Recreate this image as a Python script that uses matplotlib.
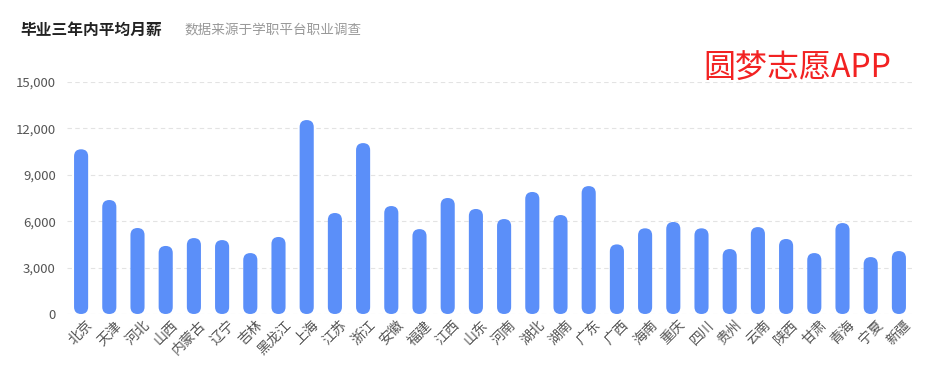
import matplotlib
matplotlib.use("Agg")
import matplotlib.pyplot as plt
from matplotlib.patches import FancyBboxPatch
from matplotlib.ticker import FuncFormatter
from matplotlib.transforms import ScaledTranslation

plt.rcParams['font.family'] = ['Noto Sans CJK SC', 'DejaVu Sans']

provinces = ["北京", "天津", "河北", "山西", "内蒙古", "辽宁", "吉林", "黑龙江", "上海", "江苏",
             "浙江", "安徽", "福建", "江西", "山东", "河南", "湖北", "湖南", "广东", "广西",
             "海南", "重庆", "四川", "贵州", "云南", "陕西", "甘肃", "青海", "宁夏", "新疆"]
salaries = [10650, 7370, 5560, 4400, 4910, 4780, 3940, 4980, 12540, 6530,
            11050, 6980, 5490, 7500, 6790, 6140, 7890, 6400, 8270, 4500,
            5540, 5950, 5540, 4200, 5620, 4850, 3940, 5880, 3680, 4070]
y_ticks = [0, 3000, 6000, 9000, 12000, 15000]

title = "毕业三年内平均月薪"
subtitle = "数据来源于学职平台职业调查"
watermark = "圆梦志愿APP"

W, H = 938, 368
fig = plt.figure(figsize=(W / 100, H / 100), dpi=100)
ax = fig.add_axes([67 / W, (H - 314) / H, (913 - 67) / W, (314 - 82) / H])

x = list(range(len(provinces)))
ax.set_xlim(-0.5, len(provinces) - 0.5)
ax.set_ylim(0, 15000)

bars = ax.bar(x, salaries, width=0.5, color="none")

# rounded (capsule) bars
p0 = ax.transData.transform((0, 0))
px_x = ax.transData.transform((1, 0))[0] - p0[0]
px_y = ax.transData.transform((0, 1))[1] - p0[1]
aspect = px_x / px_y
for b in bars:
    w = b.get_width()
    patch = FancyBboxPatch((b.get_x(), 0), w, b.get_height(),
                           boxstyle=f"round,pad=0,rounding_size={w / 2}",
                           mutation_aspect=aspect, facecolor="#5B8FF9",
                           edgecolor="none", zorder=3)
    ax.add_patch(patch)

ax.set_yticks(y_ticks)
ax.yaxis.set_major_formatter(FuncFormatter(lambda v, p: f"{int(v):,}"))
ax.grid(axis="y", color="#e3e3e3", linestyle=(0, (4, 3)), linewidth=0.8, zorder=0)
ax.set_axisbelow(True)
for s in ax.spines.values():
    s.set_visible(False)
ax.tick_params(axis="y", length=0, pad=8, labelsize=9.5, labelcolor="#555555")
ax.tick_params(axis="x", length=0, pad=3)
ax.set_xticks(x)
ax.set_xticklabels(provinces, rotation=45, ha="right", va="top",
                   rotation_mode="anchor", fontsize=10, color="#555555")
shift = ScaledTranslation(5 / 100, 0, fig.dpi_scale_trans)
for lbl in ax.get_xticklabels():
    lbl.set_transform(lbl.get_transform() + shift)

fig.text(20 / W, 1 - 30 / H, title, fontsize=11.3, fontweight="bold",
         color="#222222", va="center", ha="left")
fig.text(184 / W, 1 - 30 / H, subtitle, fontsize=9.8, color="#999999",
         va="center", ha="left")
fig.text(797 / W, 1 - 69 / H, watermark, fontsize=23, color="#f22222",
         va="center", ha="center")

fig.savefig("out.png", dpi=100)
